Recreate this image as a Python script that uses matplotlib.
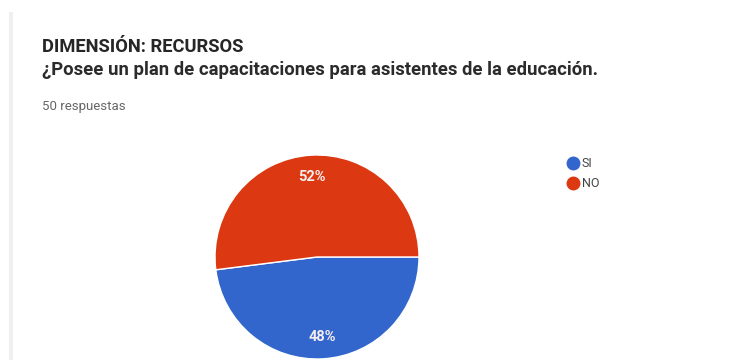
import matplotlib
matplotlib.use("Agg")
import matplotlib.pyplot as plt
from matplotlib.lines import Line2D
from matplotlib.patches import Rectangle

categories = ["SI", "NO"]
values = [48, 52]
colors = ["#3366cc", "#dc3912"]
title = "DIMENSIÓN: RECURSOS"
question = "¿Posee un plan de capacitaciones para asistentes de la educación."
subtitle = "50 respuestas"

plt.rcParams['font.family'] = ['Roboto', 'DejaVu Sans']

W, H = 755, 360
fig = plt.figure(figsize=(W / 100, H / 100), dpi=100)
fig.patch.set_facecolor("white")

# card left edge
fig.patches.append(Rectangle((9 / W, 0), 4 / W, (H - 12) / H, transform=fig.transFigure,
                             facecolor="#efefef", edgecolor="none"))

fig.text(42 / W, 1 - 47 / H, title, fontsize=13.2, fontweight="bold", color="#262626",
         va="center", ha="left")
fig.text(42 / W, 1 - 70 / H, question, fontsize=13.3, fontweight="bold", color="#2b2b2b",
         va="center", ha="left")
fig.text(42 / W, 1 - 106 / H, subtitle, fontsize=9.5, color="#666666",
         va="center", ha="left")

cx, cy, r = 317, 257, 102
ax = fig.add_axes([(cx - r) / W, (H - cy - r) / H, 2 * r / W, 2 * r / H])
wedges, texts, autotexts = ax.pie(values, colors=colors, startangle=0, counterclock=False,
                                  autopct=lambda p: f"{p:.0f}%", pctdistance=0.79,
                                  wedgeprops=dict(edgecolor="white", linewidth=1),
                                  textprops=dict(color="white", fontsize=10.5, fontweight="bold"))
ax.set_xlim(-1, 1)
ax.set_ylim(-1, 1)
ax.set_aspect("equal")
ax.axis("off")
for w in wedges:
    w.set_clip_on(False)
for t in autotexts:
    t.set_color("#f6eeee")

handles = [Line2D([], [], marker="o", linestyle="none", markersize=9,
                  markerfacecolor=c, markeredgecolor=c) for c in colors]
fig.legend(handles, categories, loc="upper left", bbox_to_anchor=(567 / W, 1 - 157 / H),
           frameon=False, fontsize=9, handletextpad=0.3, labelspacing=0.55,
           borderaxespad=0, borderpad=0, handlelength=0.9, labelcolor="#444444")

fig.savefig("out.png", dpi=100)
